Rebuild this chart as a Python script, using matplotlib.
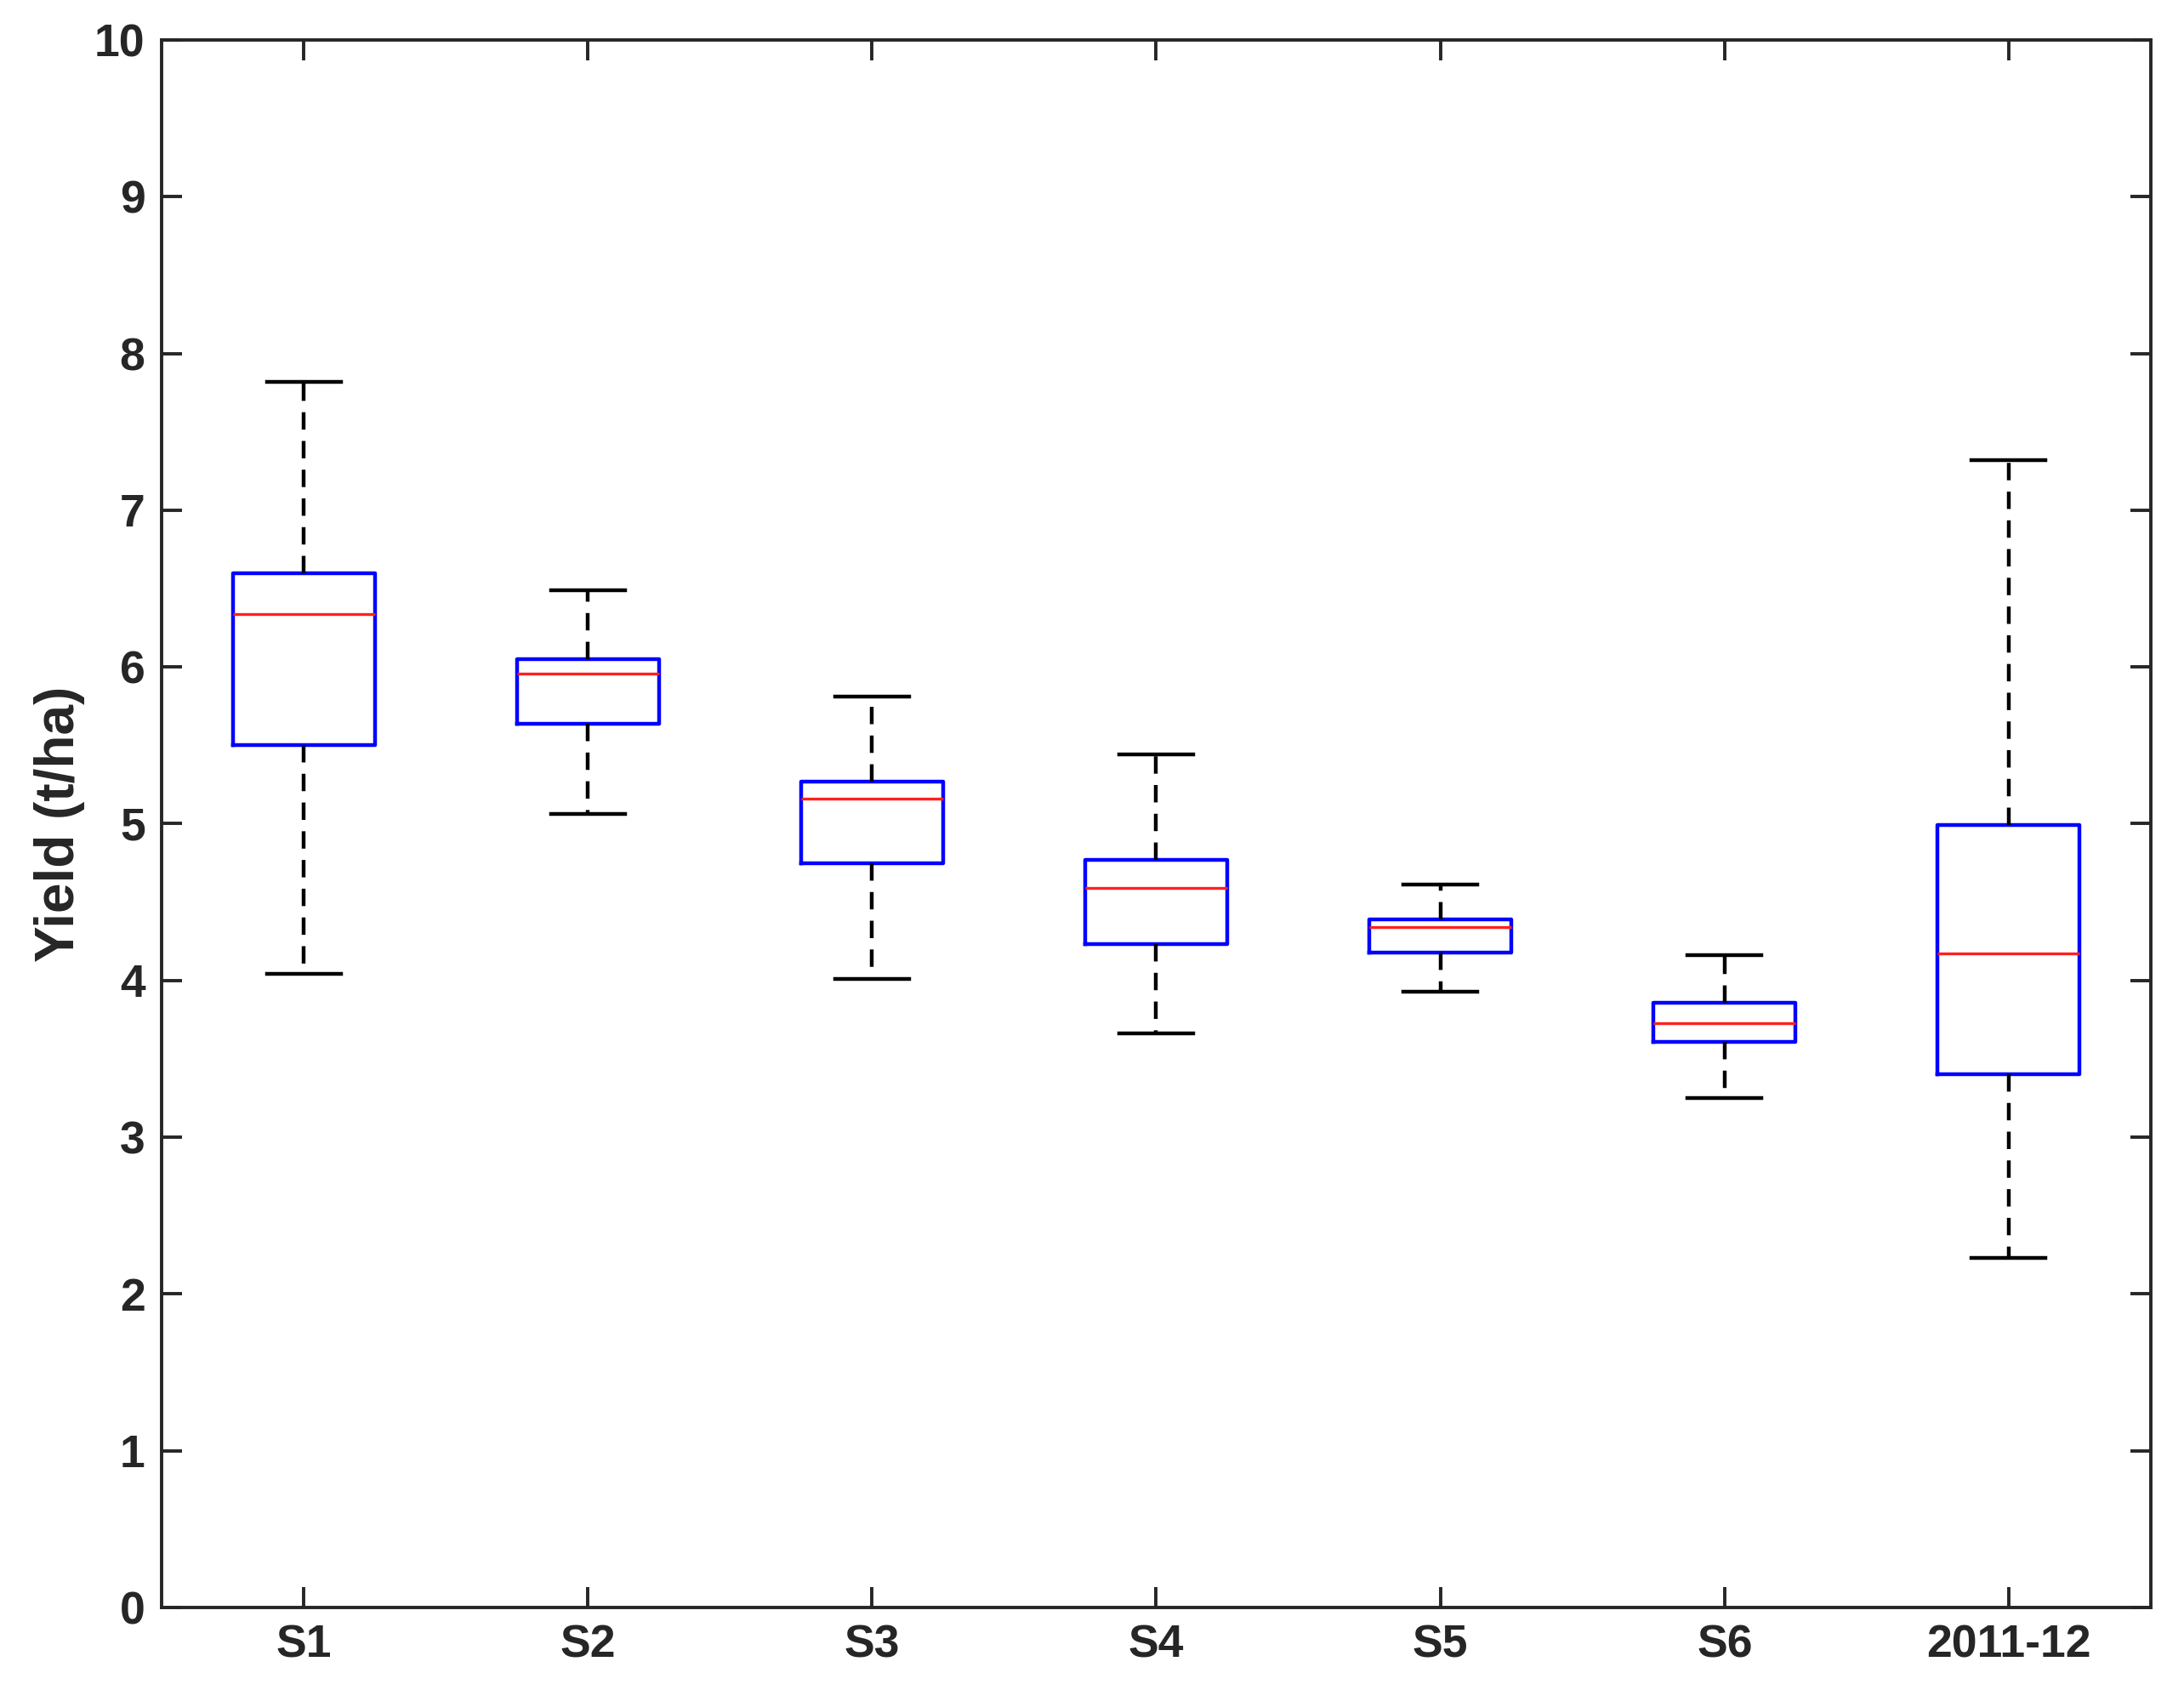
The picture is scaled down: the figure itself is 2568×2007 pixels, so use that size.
import matplotlib
matplotlib.use("Agg")
import matplotlib.pyplot as plt

plt.rcParams['font.family'] = ['Liberation Sans', 'DejaVu Sans']
plt.rcParams['font.weight'] = 'bold'

# box statistics
labels = ['S1', 'S2', 'S3', 'S4', 'S5', 'S6', '2011-12']
whislo = [4.04, 5.06, 4.01, 3.66, 3.93, 3.25, 2.23]
q1 = [5.50, 5.64, 4.75, 4.23, 4.18, 3.61, 3.40]
med = [6.34, 5.96, 5.16, 4.59, 4.34, 3.73, 4.17]
q3 = [6.60, 6.05, 5.27, 4.77, 4.39, 3.86, 4.99]
whishi = [7.82, 6.49, 5.81, 5.44, 4.61, 4.16, 7.32]

stats = []
for i in range(len(labels)):
    stats.append(dict(label=labels[i], whislo=whislo[i], q1=q1[i], med=med[i],
                      q3=q3[i], whishi=whishi[i], fliers=[]))

fig = plt.figure(figsize=(25.68, 20.07), dpi=100)
ax = fig.add_axes([0.074, 0.0583, 0.9108, 0.9183])

lw = 3.2
ax.bxp(stats, positions=range(1, 8), widths=0.5, capwidths=0.26,
       showfliers=False,
       boxprops=dict(color='#0000ff', linewidth=lw),
       medianprops=dict(color='#ff2020', linewidth=2.4),
       whiskerprops=dict(color='black', linewidth=lw, linestyle=(0, (4.6, 3.0))),
       capprops=dict(color='black', linewidth=lw))

ax.set_xlim(0.5, 7.5)
ax.set_ylim(0, 10)
ax.set_yticks(range(0, 11))
ax.set_xticks(range(1, 8))
ax.set_xticklabels(labels)
ax.set_ylabel('Yield (t/ha)', fontsize=46, fontweight='bold', color='#262626', labelpad=8)

for s in ax.spines.values():
    s.set_linewidth(2.8)
    s.set_color('#262626')
ax.tick_params(direction='in', length=17, width=2.8, colors='#262626',
               labelsize=38.5, top=True, right=True, pad=14)
for t in ax.get_xticklabels() + ax.get_yticklabels():
    t.set_fontweight('bold')

fig.savefig('out.png', dpi=100)
